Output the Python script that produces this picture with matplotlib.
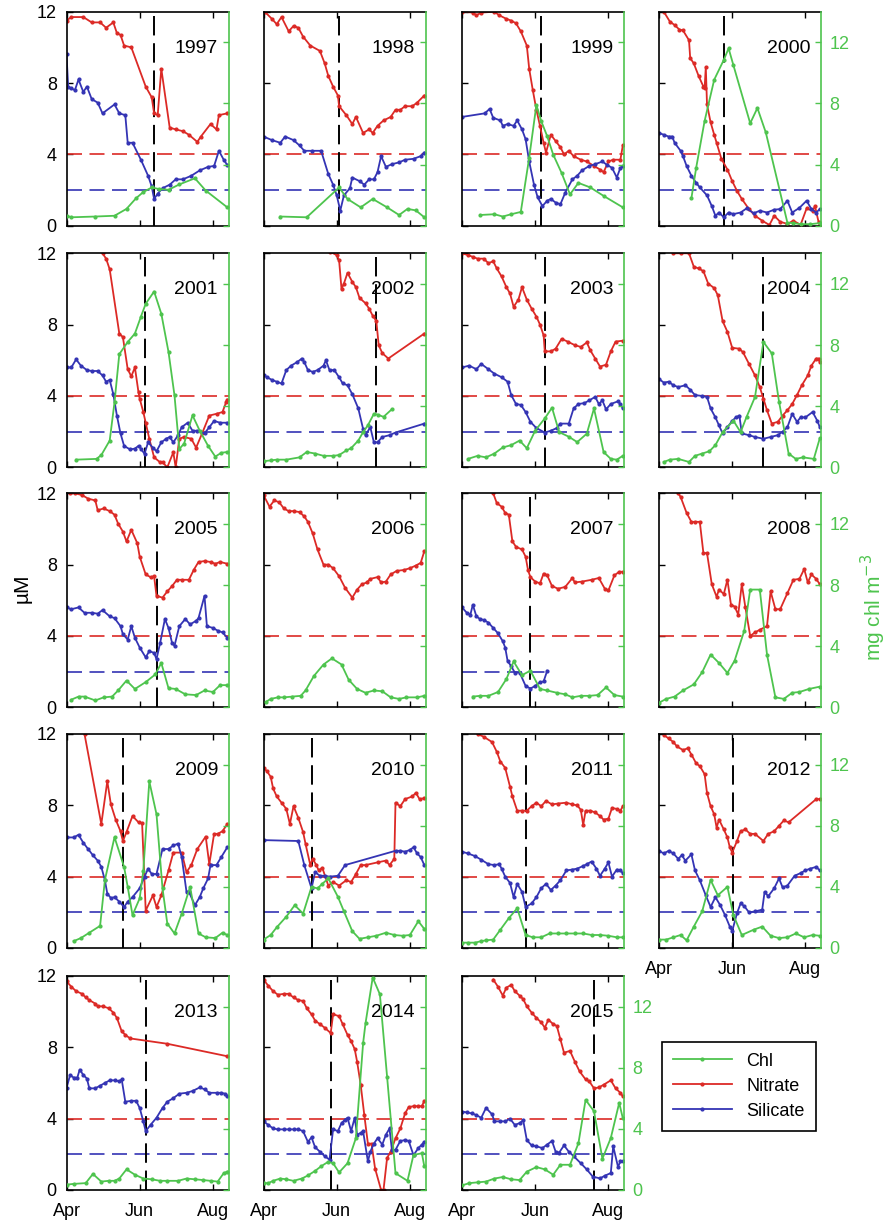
from matplotlib import pyplot as plt

plt.rcParams['font.family'] = ['Liberation Sans', 'DejaVu Sans']

RED = '#dc2a26'
BLUE = '#3434b4'
GREEN = '#4ec44e'

# x values are days since 1 April
years = [1997, 1998, 1999, 2000, 2001, 2002, 2003, 2004, 2005, 2006,
         2007, 2008, 2009, 2010, 2011, 2012, 2013, 2014, 2015]
bloom_day = [73, 63, 66, 54.5, 65, 94, 69, 87, 75, None,
             57, None, 47, 40, 53, 61.5, 66.5, 56, 110]

month_ticks = [0, 61, 122]
month_labels = ['Apr', 'Jun', 'Aug']
nit_ref = 4
sil_ref = 2

# ---- 1997
nit97_d = [0, 4, 14, 21, 28, 33, 39, 42, 45, 48, 54, 66, 71, 73, 76, 79, 86, 91, 97, 102, 109, 112, 120, 125, 127, 134]
nit97 = [11.5, 11.7, 11.7, 11.4, 11.4, 11.1, 11.4, 10.8, 10.7, 10.1, 10.0, 7.8, 7.2, 6.3, 6.2, 8.8, 5.5, 5.4, 5.3, 5.1, 4.7, 5.0, 5.7, 5.4, 6.2, 6.3]
sil97_d = [0, 1.4, 4, 7, 10, 14, 17, 21, 26, 30, 40, 44, 49, 51, 55, 62, 68, 71, 73, 76, 80, 86, 91, 97, 104, 111, 118, 123, 127, 131, 134]
sil97 = [9.6, 7.8, 7.7, 7.6, 8.2, 7.5, 7.8, 7.1, 6.9, 6.3, 6.8, 6.3, 6.2, 4.65, 4.65, 3.7, 2.8, 2.2, 1.5, 1.8, 2.1, 2.3, 2.6, 2.6, 2.8, 3.1, 3.3, 3.35, 4.2, 3.7, 3.4]
chl97_d = [0, 4, 24, 40, 50, 58, 64, 71, 77, 85, 94, 107, 116, 134]
chl97 = [0.65, 0.55, 0.6, 0.65, 1.1, 1.8, 2.2, 2.5, 2.4, 2.35, 2.7, 3.1, 2.3, 1.2]

# ---- 1998
nit98_d = [1, 7, 11, 15, 21, 25, 29, 33, 39, 47, 51, 54, 58, 62, 63, 69, 74, 77, 83, 88, 91, 95, 100, 106, 110, 114, 118, 124, 128, 134]
nit98 = [12.0, 11.6, 11.3, 11.7, 10.9, 11.2, 11.1, 10.6, 10.1, 9.8, 9.1, 8.4, 7.8, 7.3, 6.7, 6.2, 5.7, 6.1, 5.2, 5.4, 5.2, 5.6, 5.9, 6.1, 6.5, 6.5, 6.7, 6.7, 6.9, 7.3]
sil98_d = [0, 7, 14, 18, 25, 30, 34, 40, 48, 54, 58, 61, 64, 67, 72, 74, 80, 84, 88, 92, 95, 98, 102, 107, 113, 118, 125, 131, 134]
sil98 = [5.0, 4.8, 4.65, 5.0, 4.8, 4.5, 4.2, 4.2, 4.2, 2.9, 2.3, 1.7, 0.85, 1.7, 2.1, 2.7, 2.5, 2.3, 2.6, 2.6, 3.0, 3.9, 3.3, 3.45, 3.55, 3.7, 3.75, 3.9, 4.1]
chl98_d = [14, 36, 63, 70, 81, 91, 103, 113, 120, 127, 134]
chl98 = [0.6, 0.55, 2.5, 1.75, 1.2, 1.75, 1.2, 0.7, 1.1, 1.0, 0.55]

# ---- 1999
nit99_d = [0, 9, 12, 16, 27, 31, 37, 41, 45, 49, 54, 56, 59, 62, 65, 68, 70, 74, 78, 82, 85, 89, 93, 99, 104, 110, 115, 118, 122, 126, 132, 134]
nit99 = [12.0, 11.95, 11.8, 11.95, 12.0, 11.8, 11.6, 11.5, 11.35, 10.9, 10.1, 8.8, 7.6, 6.5, 5.6, 4.65, 4.1, 5.1, 4.75, 4.4, 4.0, 4.2, 3.9, 3.7, 3.6, 3.35, 3.15, 3.0, 3.6, 3.7, 3.7, 4.5]
sil99_d = [0, 19, 23, 26, 32, 34, 38, 43, 46, 50, 53, 56, 60, 63, 67, 71, 74, 78, 82, 86, 92, 96, 100, 106, 111, 117, 121, 125, 129, 132, 134]
sil99 = [6.1, 6.3, 6.55, 6.05, 5.9, 5.6, 5.7, 5.6, 5.9, 5.4, 4.85, 3.6, 2.3, 1.6, 1.1, 1.4, 1.5, 1.3, 1.2, 1.85, 2.6, 2.8, 3.1, 3.35, 3.45, 3.6, 3.4, 3.25, 2.7, 3.25, 3.35]
chl99_d = [15, 27, 34, 41, 49, 56, 62, 66, 71, 76, 83, 90, 97, 107, 118, 134]
chl99 = [0.7, 0.75, 0.6, 0.75, 0.9, 4.45, 7.9, 6.85, 5.85, 4.65, 3.45, 2.05, 2.8, 2.5, 1.95, 1.2]

# ---- 2000
nit00_d = [4, 9, 13, 17, 20, 25, 26, 29, 33, 37, 38, 39, 40, 43, 46, 48, 52, 57, 61, 65, 69, 75, 80, 86, 92, 96, 101, 107, 112, 118, 123, 128, 130, 133, 134]
nit00 = [12.0, 11.45, 11.25, 11.0, 10.95, 10.4, 9.4, 9.1, 8.4, 7.8, 7.7, 8.9, 6.8, 5.8, 5.1, 4.65, 3.75, 3.15, 2.5, 1.95, 1.5, 0.93, 0.56, 0.28, 0.04, 0.56, 0.22, 0.1, 0.28, 0.05, 0.97, 0.84, 1.1, 0.2, 0.05]
sil00_d = [0, 4, 8, 11, 13, 18, 20, 23, 27, 31, 34, 40, 44, 47, 50, 54, 58, 62, 68, 73, 79, 84, 90, 96, 101, 107, 111, 117, 123, 127, 131, 134]
sil00 = [5.2, 5.1, 5.0, 5.0, 4.65, 4.2, 3.9, 3.35, 2.8, 2.4, 2.15, 1.7, 1.1, 0.56, 0.74, 0.47, 0.74, 0.65, 0.74, 0.97, 0.7, 0.84, 0.74, 0.9, 0.93, 1.4, 0.74, 1.0, 1.4, 0.93, 0.74, 0.93]
chl00_d = [27, 31, 38, 46, 54, 58, 62, 76, 82, 89, 107, 112, 118, 126, 134]
chl00 = [1.8, 3.8, 6.85, 9.55, 10.85, 11.6, 10.5, 6.7, 7.7, 6.1, 0.2, 0.17, 0.1, 0.1, 0.17]

# ---- 2001
nit01_d = [30, 33, 36, 44, 47, 51, 54, 57, 60, 61, 64, 66, 69, 73, 78, 80, 84, 89, 91, 94, 98, 104, 108, 113, 119, 125, 130, 133, 134]
nit01 = [12.0, 11.7, 11.1, 7.5, 7.3, 5.5, 5.1, 5.6, 4.2, 3.85, 3.1, 2.5, 1.6, 0.56, 0.28, 0.28, 0.0, 0.84, 0.0, 1.6, 1.7, 1.6, 1.1, 1.9, 2.9, 3.0, 3.1, 3.65, 3.8]
sil01_d = [0, 4, 8, 12, 17, 21, 26, 30, 33, 36, 39, 42, 45, 48, 53, 57, 60, 62, 65, 68, 72, 75, 79, 83, 86, 89, 93, 96, 101, 105, 109, 115, 119, 123, 128, 134]
sil01 = [5.6, 5.6, 6.05, 5.7, 5.45, 5.4, 5.4, 5.15, 4.8, 4.9, 4.1, 2.9, 1.9, 1.2, 1.0, 1.05, 1.2, 1.05, 0.75, 1.4, 1.1, 0.9, 1.4, 1.6, 1.7, 1.4, 1.8, 2.25, 2.5, 2.05, 2.05, 1.9, 2.25, 2.6, 2.5, 2.5]
chl01_d = [8, 25, 29, 36, 40, 44, 51, 57, 62, 66, 73, 79, 85, 90, 94, 98, 105, 111, 118, 124, 129, 134]
chl01 = [0.5, 0.55, 0.8, 1.75, 4.25, 7.4, 8.2, 8.75, 9.85, 10.7, 11.5, 10.05, 7.55, 4.7, 1.2, 1.55, 3.4, 2.4, 1.4, 0.7, 0.95, 1.0]

# ---- 2002
nit02_d = [55, 61, 63, 65, 67, 70, 74, 77, 80, 85, 88, 91, 94, 96, 99, 104, 134]
nit02 = [12.1, 11.9, 11.6, 10.0, 10.3, 10.9, 10.4, 10.1, 9.5, 9.2, 8.9, 8.5, 8.2, 6.85, 6.4, 6.1, 7.5]
sil02_d = [0, 3, 7, 11, 15, 19, 23, 28, 32, 34, 37, 41, 45, 50, 52, 55, 59, 63, 66, 70, 74, 79, 83, 85, 89, 92, 95, 99, 105, 110, 134]
sil02 = [5.15, 5.05, 4.9, 4.8, 4.7, 5.45, 5.7, 5.9, 6.1, 5.9, 5.45, 5.35, 5.45, 5.7, 6.0, 5.45, 5.45, 5.05, 4.7, 4.6, 4.1, 3.3, 2.15, 1.8, 2.25, 1.4, 1.4, 1.7, 1.8, 1.95, 2.45]
chl02_d = [0, 6, 11, 19, 30, 36, 43, 50, 58, 63, 69, 73, 79, 83, 87, 92, 95, 100, 107]
chl02 = [0.4, 0.45, 0.5, 0.5, 0.65, 1.0, 0.9, 0.75, 0.75, 0.8, 1.1, 1.25, 1.75, 2.3, 2.75, 3.5, 3.45, 3.3, 3.8]

# ---- 2003
nit03_d = [0, 5, 9, 13, 18, 22, 26, 29, 33, 37, 40, 43, 47, 50, 54, 58, 62, 65, 68, 69, 74, 78, 83, 88, 94, 99, 104, 107, 111, 115, 120, 124, 128, 134]
nit03 = [12.0, 11.9, 11.8, 11.7, 11.7, 11.45, 11.55, 11.15, 10.7, 10.1, 9.75, 9.0, 9.4, 10.1, 9.4, 8.9, 8.45, 8.0, 7.4, 6.5, 6.5, 6.65, 7.2, 7.05, 6.85, 6.75, 7.0, 6.55, 6.1, 5.65, 5.75, 6.5, 7.05, 7.1]
sil03_d = [0, 6, 12, 16, 22, 27, 33, 38, 41, 45, 49, 53, 57, 62, 69, 74, 79, 82, 89, 93, 97, 102, 106, 111, 114, 117, 120, 124, 130, 132, 134]
sil03 = [5.6, 5.7, 5.5, 5.8, 5.5, 5.25, 5.05, 4.8, 4.05, 3.55, 3.5, 3.1, 2.55, 2.2, 1.95, 2.05, 2.2, 2.45, 2.45, 3.3, 3.55, 3.6, 3.75, 3.95, 3.55, 3.75, 3.25, 3.55, 3.7, 3.55, 3.3]
chl03_d = [5, 13, 20, 27, 34, 41, 48, 54, 61, 69, 75, 81, 89, 96, 104, 110, 118, 124, 129, 134]
chl03 = [0.55, 0.75, 0.65, 0.9, 1.3, 1.45, 1.75, 1.25, 2.4, 3.2, 3.9, 2.3, 2.0, 1.65, 2.2, 3.85, 1.0, 0.55, 0.5, 0.75]

# ---- 2004
nit04_d = [12, 18, 25, 29, 33, 37, 41, 46, 49, 53, 57, 61, 67, 70, 75, 80, 84, 87, 90, 94, 99, 103, 107, 111, 115, 119, 124, 127, 131, 133, 134]
nit04 = [12.0, 12.0, 12.0, 11.25, 11.15, 11.0, 10.3, 10.05, 9.65, 8.2, 7.6, 6.7, 6.65, 6.45, 5.8, 5.15, 4.5, 3.85, 3.2, 2.45, 2.55, 2.9, 3.2, 3.55, 4.05, 4.6, 5.15, 5.7, 6.1, 6.1, 5.9]
sil04_d = [0, 4, 8, 12, 16, 22, 26, 30, 36, 40, 43, 47, 50, 53, 57, 61, 64, 67, 69, 75, 80, 87, 93, 99, 103, 107, 111, 115, 118, 122, 128, 132, 134]
sil04 = [4.95, 4.75, 4.8, 4.6, 4.5, 4.6, 4.35, 4.05, 4.0, 3.95, 3.3, 2.8, 2.35, 1.9, 2.25, 2.6, 2.8, 2.9, 1.9, 1.8, 1.7, 1.6, 1.7, 1.8, 2.0, 2.25, 3.0, 2.55, 2.8, 2.8, 3.1, 2.6, 2.25]
chl04_d = [4, 9, 16, 25, 30, 36, 42, 47, 53, 62, 68, 73, 80, 87, 94, 100, 108, 114, 120, 129, 134]
chl04 = [0.35, 0.5, 0.55, 0.35, 0.75, 0.9, 1.05, 1.45, 2.3, 3.05, 2.3, 3.3, 4.6, 8.2, 7.45, 4.3, 0.9, 0.55, 0.65, 0.55, 1.9]

# ---- 2005
nit05_d = [3, 7, 13, 18, 24, 26, 31, 36, 40, 43, 47, 50, 54, 59, 61, 66, 70, 73, 75, 80, 84, 88, 92, 96, 102, 106, 110, 115, 120, 124, 128, 134]
nit05 = [12.0, 12.0, 11.9, 11.7, 11.6, 11.05, 11.15, 11.0, 10.8, 10.3, 9.85, 9.3, 9.95, 9.2, 8.45, 7.45, 7.3, 7.35, 6.25, 6.15, 6.5, 6.8, 7.15, 7.15, 7.15, 7.7, 8.15, 8.2, 8.15, 8.05, 8.15, 8.05]
sil05_d = [0, 4, 10, 15, 21, 26, 30, 36, 40, 45, 47, 51, 54, 57, 61, 66, 69, 73, 75, 78, 82, 85, 88, 90, 94, 99, 103, 108, 110, 115, 117, 122, 126, 130, 134]
sil05 = [5.6, 5.5, 5.6, 5.3, 5.3, 5.25, 5.45, 5.1, 5.0, 4.55, 4.1, 3.8, 4.55, 3.9, 3.35, 2.8, 3.15, 3.05, 2.7, 3.6, 4.95, 4.45, 3.6, 3.45, 4.55, 4.95, 4.65, 4.85, 5.0, 6.25, 4.55, 4.45, 4.3, 4.2, 3.9]
chl05_d = [4, 10, 15, 24, 31, 38, 43, 50, 57, 66, 74, 79, 85, 91, 99, 108, 115, 122, 128, 134]
chl05 = [0.5, 0.7, 0.7, 0.45, 0.65, 0.7, 1.1, 1.75, 1.2, 1.65, 2.15, 2.9, 1.25, 1.2, 0.85, 0.8, 1.1, 1.0, 1.45, 1.45]

# ---- 2006 (no silicate)
nit06_d = [0, 5, 9, 13, 17, 21, 25, 30, 34, 37, 41, 45, 50, 54, 58, 63, 68, 74, 78, 82, 86, 89, 95, 98, 102, 106, 111, 117, 122, 127, 131, 134]
nit06 = [11.9, 11.25, 11.6, 11.5, 11.15, 11.0, 11.0, 10.95, 10.7, 10.4, 9.75, 8.85, 8.0, 8.0, 7.8, 7.35, 6.7, 6.15, 6.6, 6.9, 7.0, 7.2, 7.3, 7.0, 7.05, 7.45, 7.65, 7.7, 7.8, 7.95, 8.1, 8.75]
sil06_d = []
sil06 = []
chl06_d = [2, 6, 12, 17, 24, 31, 35, 42, 50, 57, 65, 71, 78, 85, 92, 99, 106, 113, 119, 128, 134]
chl06 = [0.35, 0.55, 0.65, 0.65, 0.7, 0.75, 1.1, 2.05, 2.8, 3.2, 2.8, 1.8, 1.2, 0.95, 1.1, 1.05, 0.65, 0.55, 0.65, 0.65, 0.75]

# ---- 2007
nit07_d = [26, 29, 33, 36, 39, 42, 45, 50, 53, 55, 57, 61, 65, 68, 71, 75, 80, 86, 92, 94, 100, 108, 114, 119, 122, 127, 131, 134]
nit07 = [12.0, 11.45, 11.25, 10.9, 10.8, 9.3, 9.0, 8.85, 8.45, 7.7, 7.3, 7.05, 6.95, 7.5, 7.4, 6.8, 6.65, 6.75, 7.25, 7.0, 7.05, 7.15, 7.25, 6.65, 6.55, 7.4, 7.6, 7.6]
sil07_d = [0, 4, 7, 9, 12, 15, 18, 22, 26, 30, 34, 36, 38, 41, 44, 48, 53, 57, 61, 65, 68, 71]
sil07 = [5.6, 5.3, 5.2, 5.75, 5.1, 4.95, 4.9, 4.75, 4.45, 4.15, 3.7, 3.35, 2.6, 2.3, 1.95, 1.95, 1.2, 1.05, 1.2, 1.4, 1.45, 2.05]
chl07_d = [9, 15, 22, 30, 37, 43, 50, 57, 65, 71, 79, 86, 92, 99, 106, 113, 120, 127, 134]
chl07 = [0.7, 0.75, 0.75, 1.0, 1.85, 3.0, 2.1, 2.4, 1.2, 1.1, 0.95, 0.85, 0.65, 0.75, 0.75, 0.8, 1.3, 0.8, 0.7]

# ---- 2008 (no silicate)
nit08_d = [16, 18, 23, 27, 30, 34, 37, 40, 44, 48, 50, 54, 57, 60, 63, 66, 69, 72, 76, 80, 84, 90, 93, 97, 101, 107, 112, 117, 121, 124, 127, 131, 134]
nit08 = [12.0, 11.8, 10.9, 10.4, 10.4, 10.4, 8.65, 8.65, 6.9, 6.2, 6.6, 6.35, 7.15, 5.75, 5.65, 5.2, 6.9, 5.6, 4.0, 4.2, 4.35, 4.55, 6.5, 5.5, 5.5, 6.4, 7.15, 7.2, 7.75, 7.0, 7.45, 7.2, 6.9]
sil08_d = []
sil08 = []
chl08_d = [0, 6, 13, 20, 29, 36, 43, 50, 57, 63, 71, 76, 84, 90, 97, 104, 111, 117, 125, 134]
chl08 = [0.3, 0.55, 0.7, 1.1, 1.5, 2.3, 3.45, 2.9, 2.25, 3.05, 5.0, 7.7, 7.7, 3.45, 0.65, 0.55, 0.95, 1.0, 1.2, 1.35]

# ---- 2009
nit09_d = [15, 29, 34, 37, 41, 45, 47, 50, 55, 60, 63, 66, 72, 75, 79, 85, 89, 96, 100, 104, 109, 116, 119, 123, 126, 130, 134]
nit09 = [12.0, 6.95, 9.35, 8.05, 7.2, 6.55, 6.0, 6.5, 7.4, 7.05, 7.0, 2.1, 2.95, 2.3, 2.95, 4.35, 5.35, 5.35, 4.25, 4.65, 5.55, 6.25, 4.7, 6.4, 6.4, 6.55, 6.95]
sil09_d = [0, 6, 10, 14, 18, 22, 26, 29, 32, 34, 37, 40, 44, 48, 51, 55, 61, 65, 68, 71, 75, 80, 85, 89, 93, 96, 100, 102, 107, 111, 114, 118, 120, 125, 129, 134]
sil09 = [6.2, 6.2, 6.35, 5.9, 5.55, 5.2, 4.9, 4.55, 3.8, 3.05, 2.8, 2.85, 2.6, 2.3, 2.6, 2.85, 3.35, 4.0, 4.45, 4.15, 4.15, 5.55, 5.55, 5.75, 5.85, 5.1, 3.15, 3.15, 2.4, 2.85, 3.35, 3.9, 4.65, 4.65, 5.1, 5.65]
chl09_d = [6, 12, 19, 28, 32, 40, 48, 51, 55, 61, 64, 69, 75, 80, 84, 90, 96, 103, 110, 116, 124, 130, 134]
chl09 = [0.45, 0.65, 1.0, 1.45, 4.45, 7.25, 5.3, 4.0, 2.15, 3.25, 5.05, 10.9, 8.75, 3.9, 1.6, 0.95, 2.25, 4.0, 0.95, 0.7, 0.65, 1.0, 0.85]

# ---- 2010
nit10_d = [0, 3, 6, 8, 11, 15, 19, 22, 25, 29, 33, 35, 39, 41, 44, 46, 49, 54, 58, 63, 69, 73, 77, 81, 85, 95, 102, 105, 109, 110, 114, 118, 124, 127, 130, 134]
nit10 = [10.1, 9.9, 9.6, 8.95, 8.5, 8.15, 7.8, 6.95, 7.95, 7.3, 6.5, 5.85, 4.65, 5.0, 4.65, 4.35, 4.5, 3.5, 3.7, 3.5, 3.8, 3.7, 4.15, 4.65, 4.65, 4.8, 4.9, 4.65, 5.0, 8.15, 7.95, 8.35, 8.5, 8.7, 8.35, 8.4]
sil10_d = [0, 29, 34, 40, 43, 47, 51, 55, 62, 68, 110, 114, 118, 122, 125, 128, 131, 134]
sil10 = [6.05, 6.0, 4.65, 3.35, 4.25, 4.05, 4.05, 4.0, 4.05, 4.65, 5.45, 5.45, 5.4, 5.5, 5.65, 5.3, 5.1, 4.65]
chl10_d = [0, 6, 11, 19, 26, 33, 40, 45, 49, 54, 62, 67, 74, 80, 87, 94, 102, 109, 116, 122, 129, 134]
chl10 = [0.55, 0.85, 1.35, 2.05, 2.8, 2.25, 4.0, 3.9, 4.2, 4.55, 3.35, 2.4, 1.1, 0.6, 0.7, 0.8, 1.0, 0.85, 0.8, 0.85, 1.75, 1.25]

# ---- 2011
nit11_d = [13, 18, 25, 29, 32, 36, 40, 42, 46, 50, 54, 58, 62, 66, 70, 75, 80, 87, 92, 96, 99, 101, 103, 107, 111, 115, 118, 122, 125, 129, 132, 134]
nit11 = [12.0, 11.85, 11.55, 11.0, 10.45, 10.1, 9.05, 8.5, 7.7, 7.7, 7.7, 7.95, 8.15, 7.95, 8.25, 8.05, 8.1, 8.15, 8.05, 8.0, 7.75, 6.9, 7.7, 7.7, 7.6, 7.4, 7.2, 7.25, 7.85, 7.8, 7.7, 7.95]
sil11_d = [0, 5, 11, 16, 22, 27, 31, 33, 36, 40, 43, 46, 50, 53, 58, 62, 66, 70, 74, 78, 82, 87, 92, 96, 101, 104, 108, 112, 115, 119, 122, 125, 129, 132, 134]
sil11 = [5.4, 5.3, 5.15, 4.95, 4.7, 4.65, 4.7, 4.45, 4.0, 3.65, 2.85, 3.6, 3.15, 2.3, 2.5, 2.85, 3.35, 3.6, 3.25, 3.5, 3.8, 4.35, 4.4, 4.45, 4.6, 4.7, 4.85, 4.45, 4.05, 4.45, 4.8, 4.0, 4.4, 4.35, 4.2]
chl11_d = [0, 5, 11, 16, 20, 26, 32, 39, 46, 53, 59, 66, 73, 80, 87, 94, 101, 108, 115, 122, 129, 134]
chl11 = [0.35, 0.35, 0.35, 0.45, 0.5, 0.55, 1.2, 1.95, 2.6, 0.85, 0.7, 0.7, 0.95, 0.95, 0.95, 0.95, 0.95, 0.85, 0.85, 0.8, 0.7, 0.7]

# ---- 2012
nit12_d = [4, 8, 12, 15, 20, 24, 27, 31, 34, 38, 40, 43, 46, 48, 50, 54, 57, 59, 61, 65, 68, 72, 76, 80, 87, 91, 96, 100, 104, 108, 131, 134]
nit12 = [11.95, 11.75, 11.55, 11.3, 11.1, 11.2, 10.85, 10.35, 10.2, 9.75, 8.7, 7.95, 7.5, 6.75, 7.2, 6.65, 6.2, 5.65, 5.35, 6.0, 6.55, 6.65, 6.4, 6.4, 6.0, 6.4, 6.55, 6.85, 7.15, 7.05, 8.35, 8.35]
sil12_d = [0, 4, 8, 12, 16, 19, 22, 27, 30, 34, 39, 43, 47, 51, 55, 59, 61, 65, 68, 71, 75, 80, 86, 88, 91, 96, 100, 103, 107, 113, 118, 122, 126, 131, 134]
sil12 = [5.45, 5.3, 5.45, 5.3, 5.0, 5.2, 4.9, 5.25, 4.35, 3.8, 2.95, 2.3, 2.85, 2.4, 1.85, 1.2, 0.95, 1.95, 2.5, 2.35, 2.0, 2.05, 2.15, 3.15, 2.9, 3.35, 3.9, 3.4, 3.5, 4.05, 4.2, 4.35, 4.45, 4.55, 4.35]
chl12_d = [0, 6, 12, 18, 23, 29, 36, 43, 49, 57, 62, 69, 79, 86, 93, 100, 107, 114, 121, 128, 134]
chl12 = [0.55, 0.55, 0.7, 0.85, 0.5, 1.4, 2.4, 4.45, 3.45, 4.0, 2.15, 0.85, 1.2, 1.4, 0.8, 0.65, 0.7, 0.95, 0.7, 0.85, 0.8]

# ---- 2013
nit13_d = [0, 4, 8, 13, 16, 19, 24, 26, 30, 35, 39, 42, 46, 49, 53, 84, 134]
nit13 = [11.7, 11.4, 11.15, 11.0, 10.8, 10.65, 10.45, 10.3, 10.3, 10.2, 9.95, 9.65, 8.9, 8.7, 8.5, 8.2, 7.5]
sil13_d = [0, 3, 6, 9, 11, 14, 17, 19, 24, 28, 32, 36, 40, 44, 46, 49, 54, 58, 61, 64, 66, 70, 75, 80, 84, 89, 94, 100, 105, 111, 115, 119, 125, 129, 132, 134]
sil13 = [5.7, 6.45, 6.3, 6.3, 6.75, 6.45, 6.25, 5.7, 5.7, 5.85, 6.0, 6.15, 6.15, 6.1, 6.2, 4.95, 5.0, 5.0, 4.6, 3.85, 3.3, 3.65, 4.05, 4.6, 4.95, 5.15, 5.4, 5.45, 5.55, 5.75, 5.65, 5.45, 5.45, 5.45, 5.4, 5.25]
chl13_d = [0, 6, 16, 22, 29, 35, 40, 44, 50, 57, 64, 71, 78, 84, 93, 100, 107, 114, 120, 126, 131, 134]
chl13 = [0.35, 0.4, 0.45, 1.05, 0.55, 0.6, 0.6, 0.75, 1.35, 1.0, 0.75, 0.7, 0.6, 0.6, 0.6, 0.75, 0.7, 0.65, 0.6, 0.55, 1.1, 1.2]

# ---- 2014
nit14_d = [0, 4, 8, 12, 17, 21, 25, 29, 33, 36, 40, 43, 47, 51, 56, 58, 63, 66, 70, 73, 76, 78, 81, 84, 87, 90, 93, 98, 100, 103, 106, 110, 114, 118, 121, 125, 129, 132, 134]
nit14 = [11.8, 11.45, 11.15, 10.95, 11.0, 11.0, 10.8, 10.65, 10.6, 10.2, 9.85, 9.5, 9.3, 9.1, 8.8, 9.85, 9.75, 9.3, 8.7, 8.35, 7.9, 7.2, 5.9, 4.2, 2.6, 2.6, 1.2, 0.0, 0.0, 1.8, 2.15, 2.9, 3.45, 4.3, 4.65, 4.7, 4.7, 4.7, 5.0]
sil14_d = [0, 4, 8, 12, 17, 21, 25, 29, 33, 37, 40, 43, 47, 51, 55, 58, 62, 65, 68, 70, 73, 76, 78, 81, 83, 87, 89, 92, 95, 99, 102, 105, 107, 110, 114, 118, 121, 125, 129, 132, 134]
sil14 = [3.85, 3.65, 3.45, 3.4, 3.4, 3.4, 3.4, 3.4, 3.3, 2.7, 2.95, 2.4, 2.15, 1.9, 1.7, 3.4, 3.3, 3.75, 3.95, 4.05, 3.3, 4.05, 3.1, 3.2, 3.3, 1.6, 2.15, 2.6, 2.9, 2.55, 3.1, 3.45, 2.25, 2.25, 2.75, 2.8, 2.75, 1.95, 2.35, 2.55, 2.7]
chl14_d = [0, 4, 8, 14, 19, 25, 32, 37, 43, 48, 54, 58, 63, 70, 77, 83, 85, 91, 97, 103, 110, 120, 125, 132, 134]
chl14 = [0.45, 0.45, 0.6, 0.75, 0.7, 0.6, 0.75, 0.95, 1.25, 1.55, 1.85, 1.75, 1.15, 1.75, 3.4, 9.6, 10.9, 13.9, 12.8, 7.4, 1.1, 0.6, 2.3, 2.4, 1.55]

# ---- 2015
nit15_d = [26, 30, 34, 37, 41, 44, 48, 51, 54, 58, 62, 66, 69, 72, 76, 79, 82, 85, 90, 94, 98, 103, 106, 110, 114, 118, 124, 128, 132, 134]
nit15 = [11.8, 11.4, 10.9, 11.35, 11.5, 11.15, 10.9, 10.7, 10.3, 9.95, 9.65, 9.4, 9.1, 9.55, 9.3, 9.2, 8.45, 7.7, 7.8, 7.2, 6.65, 6.2, 6.1, 5.7, 5.75, 5.9, 6.15, 5.7, 5.45, 5.25]
sil15_d = [0, 4, 8, 12, 16, 20, 25, 27, 32, 36, 40, 44, 48, 51, 54, 58, 62, 67, 71, 75, 78, 81, 85, 89, 93, 99, 104, 109, 115, 119, 124, 126, 130, 132, 134]
sil15 = [4.4, 4.35, 4.3, 4.2, 4.05, 4.6, 4.25, 3.85, 3.85, 3.85, 4.0, 3.65, 3.75, 3.9, 2.8, 2.5, 2.45, 2.35, 2.55, 2.75, 2.15, 2.1, 2.5, 2.15, 1.9, 1.5, 1.15, 0.75, 0.65, 0.8, 0.95, 2.45, 1.3, 1.6, 1.6]
chl15_d = [0, 6, 13, 20, 27, 34, 41, 48, 54, 62, 69, 76, 82, 90, 97, 103, 110, 117, 124, 131, 134]
chl15 = [0.3, 0.45, 0.5, 0.55, 0.75, 0.85, 0.7, 0.65, 1.2, 1.5, 1.35, 1.0, 1.65, 1.65, 3.05, 5.9, 5.15, 2.05, 3.4, 5.7, 4.7]

series = [
    (nit97_d, nit97, sil97_d, sil97, chl97_d, chl97),
    (nit98_d, nit98, sil98_d, sil98, chl98_d, chl98),
    (nit99_d, nit99, sil99_d, sil99, chl99_d, chl99),
    (nit00_d, nit00, sil00_d, sil00, chl00_d, chl00),
    (nit01_d, nit01, sil01_d, sil01, chl01_d, chl01),
    (nit02_d, nit02, sil02_d, sil02, chl02_d, chl02),
    (nit03_d, nit03, sil03_d, sil03, chl03_d, chl03),
    (nit04_d, nit04, sil04_d, sil04, chl04_d, chl04),
    (nit05_d, nit05, sil05_d, sil05, chl05_d, chl05),
    (nit06_d, nit06, sil06_d, sil06, chl06_d, chl06),
    (nit07_d, nit07, sil07_d, sil07, chl07_d, chl07),
    (nit08_d, nit08, sil08_d, sil08, chl08_d, chl08),
    (nit09_d, nit09, sil09_d, sil09, chl09_d, chl09),
    (nit10_d, nit10, sil10_d, sil10, chl10_d, chl10),
    (nit11_d, nit11, sil11_d, sil11, chl11_d, chl11),
    (nit12_d, nit12, sil12_d, sil12, chl12_d, chl12),
    (nit13_d, nit13, sil13_d, sil13, chl13_d, chl13),
    (nit14_d, nit14, sil14_d, sil14, chl14_d, chl14),
    (nit15_d, nit15, sil15_d, sil15, chl15_d, chl15),
]

W, H = 891, 1223
col_left = [66.5, 263.5, 462, 659]
row_top = [11.7, 253.3, 493.3, 734, 976]
ax_w = 162
ax_h = 214
XMAX = 135

fig = plt.figure(figsize=(W / 100, H / 100), dpi=100)

dash = (0, (9, 4.5))     # threshold lines
vdash = (0, (10, 4))     # bloom date

for i, yr in enumerate(years):
    r, c = divmod(i, 4)
    nd, nv, sd, sv, cd, cv = series[i]
    ax = fig.add_axes([col_left[c] / W, 1 - (row_top[r] + ax_h) / H, ax_w / W, ax_h / H])

    ax.axhline(nit_ref, color=RED, ls=dash, lw=1.2)
    if sd:
        end = XMAX if sd[-1] > 100 else sd[-1]
        ax.hlines(sil_ref, 0, end, color=BLUE, ls=dash, lw=1.2)
    if bloom_day[i] is not None:
        ax.axvline(bloom_day[i], color='k', ls=vdash, lw=1.4)

    ax.plot(nd, nv, color=RED, marker='.', ms=4, lw=1.3)
    if sd:
        ax.plot(sd, sv, color=BLUE, marker='.', ms=4, lw=1.3)

    ax.set_xlim(0, XMAX)
    ax.set_ylim(0, 12)
    ax.set_xticks(month_ticks)
    ax.set_yticks([0, 4, 8, 12])
    ax.tick_params(direction='in', length=4, width=1, top=True, right=False,
                   labelsize=13)
    ax.tick_params(axis='x', pad=9)
    ax.tick_params(axis='y', pad=7)
    if c != 0:
        ax.set_yticklabels([])
    bottom_panel = (r == 4) or (yr == 2012)
    if bottom_panel:
        ax.set_xticklabels(month_labels)
    else:
        ax.set_xticklabels([])
    for s in ['left', 'bottom', 'top']:
        ax.spines[s].set_linewidth(1.2)
    ax.spines['right'].set_visible(False)

    ax.text(0.935, 0.83, str(yr), transform=ax.transAxes, ha='right', va='center',
            fontsize=14)

    ax2 = ax.twinx()
    ax2.plot(cd, cv, color=GREEN, marker='.', ms=4, lw=1.3)
    ax2.set_ylim(0, 14)
    ax2.set_yticks([0, 4, 8, 12])
    ax2.tick_params(direction='in', length=4, width=1, colors=GREEN, labelsize=13, pad=6)
    if not (c == 3 or yr == 2015):
        ax2.set_yticklabels([])
    for s in ['left', 'bottom', 'top']:
        ax2.spines[s].set_visible(False)
    ax2.spines['right'].set_color(GREEN)
    ax2.spines['right'].set_linewidth(1.2)

fig.text(22 / W, 1 - 588 / H, 'µM', rotation=90, ha='center', va='center', fontsize=15)
fig.text(873 / W, 1 - 607 / H, 'mg chl m$^{-3}$', rotation=90, ha='center', va='center',
         fontsize=15, color=GREEN)

h_chl, = plt.plot([], [], color=GREEN, marker='.', ms=4, lw=1.3, label='Chl')
h_nit, = plt.plot([], [], color=RED, marker='.', ms=4, lw=1.3, label='Nitrate')
h_sil, = plt.plot([], [], color=BLUE, marker='.', ms=4, lw=1.3, label='Silicate')
leg = fig.legend(handles=[h_chl, h_nit, h_sil], loc='upper left',
                 bbox_to_anchor=(661.7 / W, 1 - 1041.7 / H), borderaxespad=0,
                 fontsize=13, handlelength=3.3, fancybox=False, edgecolor='k',
                 frameon=True, framealpha=1, borderpad=0.6, labelspacing=0.45)
leg.get_frame().set_linewidth(1.2)

fig.savefig('out.png', dpi=100)
